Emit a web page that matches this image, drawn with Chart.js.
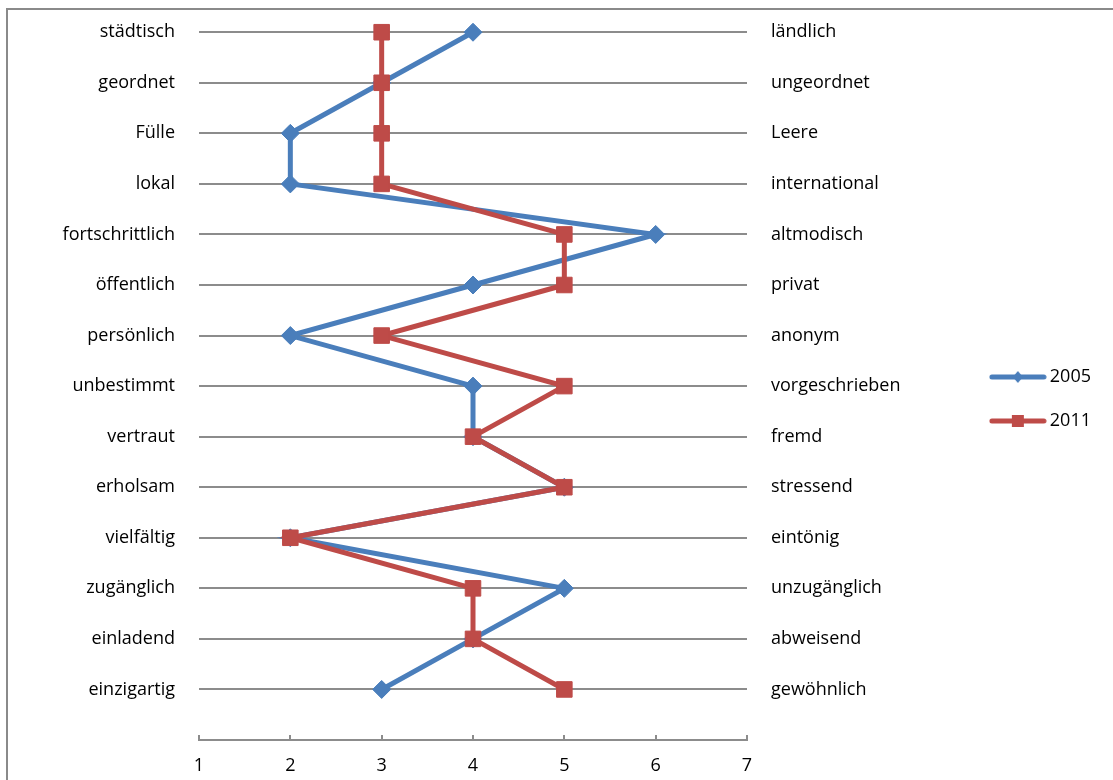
<!DOCTYPE html>
<html>
<head>
<meta charset="utf-8">
<script src="https://cdn.jsdelivr.net/npm/chart.js@4"></script>
<style>
  body { margin: 0; background: #fff; }
  #frame { position: absolute; left: 6px; top: 8px; width: 1120px; height: 800px; border: 2px solid #8a8a8a; }
  #c { position: absolute; left: 0; top: 0; }
</style>
</head>
<body>
<div id="frame"></div>
<canvas id="c" width="1113" height="780"></canvas>
<script>
// left / right poles of the semantic differential
const leftLabels = ['städtisch', 'geordnet', 'Fülle', 'lokal', 'fortschrittlich', 'öffentlich', 'persönlich',
  'unbestimmt', 'vertraut', 'erholsam', 'vielfältig', 'zugänglich', 'einladend', 'einzigartig'];
const rightLabels = ['ländlich', 'ungeordnet', 'Leere', 'international', 'altmodisch', 'privat', 'anonym',
  'vorgeschrieben', 'fremd', 'stressend', 'eintönig', 'unzugänglich', 'abweisend', 'gewöhnlich'];
const values2005 = [4, 3, 2, 2, 6, 4, 2, 4, 4, 5, 2, 5, 4, 3];
const values2011 = [3, 3, 3, 3, 5, 5, 3, 5, 4, 5, 2, 4, 4, 5];
const scaleMin = 1;
const scaleMax = 7;

const n = leftLabels.length;
const blue = '#4a7ebb';
const red = '#be4b48';
const gridGray = '#8c8c8c';
const font = { family: '"Open Sans", sans-serif', size: 18 };

// top row gets the highest y value so the list reads downwards
const toPoints = vals => vals.map((v, i) => ({ x: v, y: n - i }));

function legendIcon(color, shape) {
  var cv = document.createElement('canvas');
  cv.width = 58;
  cv.height = 20;
  var g = cv.getContext('2d');
  g.strokeStyle = color;
  g.fillStyle = color;
  g.lineWidth = 5;
  g.lineCap = 'round';
  g.beginPath();
  g.moveTo(3, 10);
  g.lineTo(55, 10);
  g.stroke();
  if (shape === 'diamond') {
    g.beginPath();
    g.moveTo(29, 4);
    g.lineTo(34, 10);
    g.lineTo(29, 16);
    g.lineTo(24, 10);
    g.closePath();
    g.fill();
  } else {
    g.fillRect(23, 4, 12, 12);
  }
  return cv;
}
const icons = [legendIcon(blue, 'diamond'), legendIcon(red, 'square')];

// one tick per row, nothing else
const rowTicks = function (scale) {
  scale.ticks = leftLabels.map((lbl, i) => ({ value: n - i }));
};

new Chart(document.getElementById('c'), {
  type: 'scatter',
  data: {
    datasets: [{
      label: '2005',
      data: toPoints(values2005),
      showLine: true,
      borderColor: blue,
      backgroundColor: blue,
      borderWidth: 5,
      pointStyle: 'rectRot',
      pointRadius: 9,
      pointBorderWidth: 1,
      order: 1
    }, {
      label: '2011',
      data: toPoints(values2011),
      showLine: true,
      borderColor: red,
      backgroundColor: red,
      borderWidth: 5,
      pointStyle: 'rect',
      pointRadius: 11,
      pointBorderWidth: 1,
      order: 0
    }]
  },
  options: {
    responsive: false,
    animation: false,
    layout: { padding: { top: 3, left: 0, right: 12, bottom: 0 } },
    plugins: {
      tooltip: { enabled: false },
      legend: {
        position: 'right',
        // empty title only nudges the two entries down a little
        title: { display: true, text: '', font: { size: 10, lineHeight: 1.5 }, padding: 0 },
        labels: {
          usePointStyle: true,
          pointStyleWidth: 46,
          padding: 26,
          color: '#000',
          font: font,
          generateLabels: chart => chart.data.datasets.map((ds, i) => ({
            text: ds.label,
            pointStyle: icons[i],
            fillStyle: ds.borderColor,
            strokeStyle: ds.borderColor,
            lineWidth: 0,
            hidden: false,
            fontColor: '#000',
            datasetIndex: i
          }))
        }
      }
    },
    scales: {
      x: {
        type: 'linear',
        min: scaleMin,
        max: scaleMax,
        ticks: { stepSize: 1, color: '#000', font: font, padding: 20 },
        grid: { drawOnChartArea: false, tickLength: -5, color: gridGray, lineWidth: 2 },
        border: { color: gridGray, width: 2 },
        afterFit: s => { s.height = 40; }
      },
      y: {
        type: 'linear',
        position: 'left',
        min: 0,
        max: n + 0.4,
        afterBuildTicks: rowTicks,
        ticks: { color: '#000', font: font, padding: 24, callback: v => leftLabels[n - v] },
        grid: { drawTicks: false, color: gridGray, lineWidth: 2 },
        border: { display: false },
        afterFit: s => { s.width = 199; s.paddingTop = 0; s.paddingBottom = 0; }
      },
      y2: {
        type: 'linear',
        position: 'right',
        min: 0,
        max: n + 0.4,
        afterBuildTicks: rowTicks,
        ticks: { color: '#000', font: font, padding: 24, callback: v => rightLabels[n - v] },
        grid: { display: false, drawTicks: false },
        border: { display: false },
        afterFit: s => {
          var lw = s.chart.legend ? s.chart.legend.width : 130;
          s.width = s.chart.width - 12 - 747 - lw;
          s.paddingTop = 0;
          s.paddingBottom = 0;
        }
      }
    }
  }
});
</script>
</body>
</html>
